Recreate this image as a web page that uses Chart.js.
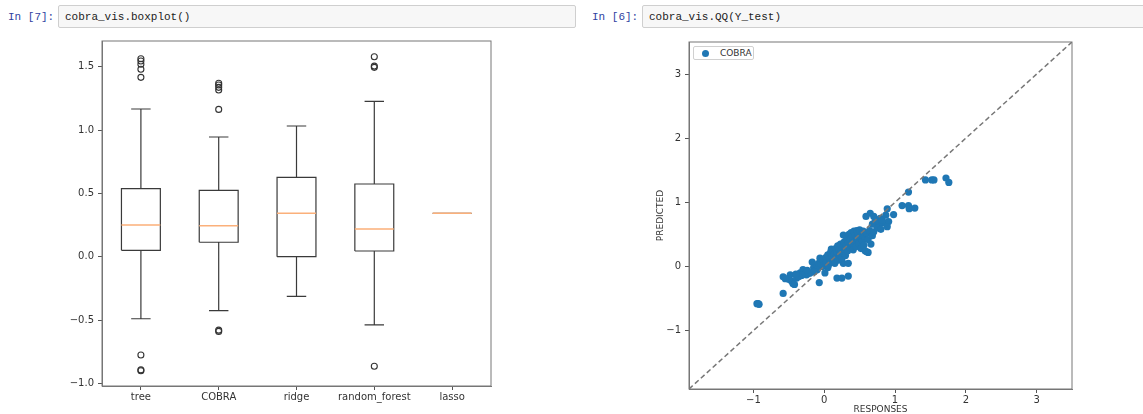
<!DOCTYPE html>
<html lang="en">
<head>
    <meta charset="UTF-8">
    <title>cobra_vis</title>
    <script src="https://cdn.jsdelivr.net/npm/chart.js@4"></script>
    <style>
        body {
            margin: 0;
            width: 1143px;
            height: 414px;
            overflow: hidden;
            background: #fff;
            position: relative;
            font-family: 'DejaVu Sans', sans-serif;
        }

        .prompt {
            position: absolute;
            top: 11px;
            font-family: 'Liberation Mono', monospace;
            font-size: 11px;
            line-height: 12px;
            color: #303F9F;
        }

        .code {
            position: absolute;
            top: 5px;
            height: 23px;
            box-sizing: border-box;
            border: 1px solid #cfcfcf;
            border-radius: 2px;
            background: #f7f7f7;
            padding: 5px 6px;
            font-family: 'Liberation Mono', monospace;
            font-size: 11px;
            line-height: 12px;
            color: #222;
        }

        canvas {
            position: absolute;
            top: 0;
        }

        .legend {
            position: absolute;
            left: 693px;
            top: 46px;
            width: 61px;
            height: 14px;
            box-sizing: border-box;
            border: 1px solid #d0d0d0;
            border-radius: 2px;
            background: #fff;
            font-size: 9px;
            color: #333;
            z-index: 2;
        }

        .legend .dot {
            position: absolute;
            left: 8px;
            top: 3px;
            width: 7px;
            height: 7px;
            border-radius: 50%;
            background: #1f77b4;
        }

        .legend .txt {
            position: absolute;
            left: 26px;
            top: 1px;
            line-height: 11px;
        }
    </style>
</head>
<body>
    <div class="prompt" style="left:8px">In [7]:</div>
    <div class="code" style="left:58px; width:518px">cobra_vis.boxplot()</div>
    <div class="prompt" style="left:592px">In [6]:</div>
    <div class="code" style="left:642px; width:520px">cobra_vis.QQ(Y_test)</div>

    <canvas id="box" width="580" height="414" style="left:0"></canvas>
    <canvas id="qq" width="563" height="414" style="left:580px"></canvas>
    <div class="legend"><span class="dot"></span><span class="txt">COBRA</span></div>

    <script>
        // boxplot values
        const categories = ['tree', 'COBRA', 'ridge', 'random_forest', 'lasso'];
        const q1 = [0.05, 0.114, 0.0, 0.045, 0.342];
        const medians = [0.25, 0.245, 0.342, 0.219, 0.342];
        const q3 = [0.537, 0.524, 0.627, 0.574, 0.342];
        const whiskerLow = [-0.49, -0.426, -0.313, -0.539, 0.342];
        const whiskerHigh = [1.166, 0.945, 1.032, 1.227, 0.342];
        const outliers = [
            [1.563, 1.545, 1.52, 1.48, 1.416, -0.776, -0.894, -0.9],
            [1.37, 1.355, 1.337, 1.316, 1.163, -0.58, -0.59],
            [],
            [1.579, 1.505, 1.495, -0.865],
            []
        ];
        const boxTicks = [-1.0, -0.5, 0.0, 0.5, 1.0, 1.5];

        // QQ values
        const responses = [
            -0.95, -0.93, -0.92, -0.58, -0.58, -0.48, -0.46, -0.44, -0.39, -0.50, -0.42,
            -0.34, -0.30, -0.29, -0.25, -0.22, -0.20, -0.27, -0.32, -0.17, -0.06, -0.03,
            0.04, -0.07, 0.01, 0.18, 0.25, 0.34, 0.27, 0.34, 0.27, 0.62, 0.60,
            -0.15, -0.12, -0.10, -0.08, -0.05, -0.10, -0.14,
            -0.55, -0.36, -0.24, -0.40, 0.05, 0.10,
            -0.02, 0.00, 0.02, 0.03, 0.05, 0.06, 0.08, 0.09, 0.10, 0.11, 0.12, 0.13, 0.14,
            0.15, 0.16, 0.17, 0.18, 0.19, 0.20, 0.21, 0.22, 0.23, 0.24, 0.25, 0.26, 0.27,
            0.28, 0.29, 0.30, 0.31, 0.32, 0.33, 0.34, 0.35, 0.36, 0.37, 0.38, 0.39, 0.40,
            0.41, 0.42, 0.43, 0.44, 0.45, 0.46, 0.47, 0.48, 0.49, 0.50, 0.51, 0.52, 0.53,
            0.54, 0.55, 0.56, 0.57, 0.58, 0.60, 0.62, 0.64, 0.66, 0.68, 0.70,
            0.65, 0.70, 0.59, 0.79, 0.84, 0.91, 0.98, 0.77, 0.89, 0.72, 0.75, 0.82, 0.87,
            0.68, 0.80, 0.89, 1.10, 1.19, 1.20, 1.28, 1.19,
            1.43, 1.52, 1.55, 1.72, 1.76
        ];
        const predicted = [
            -0.58, -0.58, -0.59, -0.42, -0.16, -0.13, -0.23, -0.27, -0.18, -0.20, -0.28,
            -0.10, -0.05, -0.08, -0.13, -0.11, -0.10, -0.12, -0.14, 0.07, 0.13, 0.00,
            0.08, -0.25, -0.10, -0.18, -0.18, -0.15, 0.05, 0.05, 0.49, 0.22, 0.23,
            -0.02, 0.02, 0.00, 0.05, 0.03, -0.05, -0.08,
            -0.19, -0.16, -0.06, -0.12, -0.02, 0.27,
            0.10, 0.03, 0.14, 0.06, 0.18, 0.02, 0.12, 0.22, 0.08, 0.16, 0.25, 0.11, 0.19,
            0.05, 0.28, 0.15, 0.22, 0.32, 0.10, 0.26, 0.18, 0.35, 0.24, 0.13, 0.30, 0.21,
            0.38, 0.27, 0.17, 0.33, 0.44, 0.24, 0.37, 0.50, 0.30, 0.42, 0.53, 0.35, 0.47,
            0.26, 0.55, 0.39, 0.49, 0.31, 0.56, 0.43, 0.51, 0.36, 0.57, 0.45, 0.28, 0.52,
            0.40, 0.55, 0.33, 0.47, 0.24, 0.52, 0.42, 0.56, 0.35, 0.48, 0.54,
            0.83, 0.78, 0.78, 0.75, 0.68, 0.70, 0.81, 0.65, 0.62, 0.70, 0.60, 0.72, 0.80,
            0.66, 0.58, 0.90, 0.95, 0.95, 0.90, 0.91, 1.16,
            1.35, 1.35, 1.35, 1.38, 1.31
        ];
        const qqLimits = [-1.91, 3.5];
        const qqTicks = [-1, 0, 1, 2, 3];

        Chart.defaults.font.family = "'DejaVu Sans', sans-serif";
        Chart.defaults.font.size = 10;
        Chart.defaults.color = '#333';
        Chart.defaults.animation = false;

        var frame = {
            id: 'frame',
            afterDraw(chart) {
                const a = chart.chartArea;
                const ctx = chart.ctx;
                ctx.save();
                ctx.strokeStyle = '#777';
                ctx.lineWidth = 1;
                ctx.strokeRect(a.left, a.top, a.right - a.left, a.bottom - a.top);
                ctx.restore();
            }
        };

        function fixedTicks(values) {
            return function (scale) {
                scale.ticks = values.map(v => ({ value: v }));
            };
        }

        function minus(s) {
            return String(s).replace('-', '\u2212');
        }

        // build box outlines / whiskers from the arrays
        var gap = { x: NaN, y: NaN };
        var boxLines = [];
        var medianLines = [];
        var outlierPts = [];
        categories.forEach(function (c, i) {
            var p = i + 1, w = 0.25, cw = 0.125;
            boxLines.push(
                { x: p - w, y: q1[i] }, { x: p + w, y: q1[i] }, { x: p + w, y: q3[i] },
                { x: p - w, y: q3[i] }, { x: p - w, y: q1[i] }, gap,
                { x: p, y: q1[i] }, { x: p, y: whiskerLow[i] }, gap,
                { x: p - cw, y: whiskerLow[i] }, { x: p + cw, y: whiskerLow[i] }, gap,
                { x: p, y: q3[i] }, { x: p, y: whiskerHigh[i] }, gap,
                { x: p - cw, y: whiskerHigh[i] }, { x: p + cw, y: whiskerHigh[i] }, gap
            );
            medianLines.push({ x: p - w, y: medians[i] }, { x: p + w, y: medians[i] }, gap);
            outliers[i].forEach(v => outlierPts.push({ x: p, y: v }));
        });

        var ctx1 = document.getElementById('box').getContext('2d');
        var chart1 = new Chart(ctx1, {
            type: 'scatter',
            data: {
                datasets: [{
                    data: medianLines,
                    showLine: true,
                    borderColor: '#fbb07a',
                    borderWidth: 1.5,
                    pointRadius: 0,
                    spanGaps: false
                }, {
                    data: boxLines,
                    showLine: true,
                    borderColor: '#3a3a3a',
                    borderWidth: 1.2,
                    pointRadius: 0,
                    spanGaps: false
                }, {
                    data: outlierPts,
                    pointRadius: 3,
                    pointBorderWidth: 1.1,
                    pointBackgroundColor: 'rgba(0,0,0,0)',
                    pointBorderColor: '#333'
                }]
            },
            options: {
                responsive: false,
                layout: { padding: { left: 0, top: 41, right: 89, bottom: 0 } },
                plugins: { legend: { display: false }, tooltip: { enabled: false } },
                scales: {
                    x: {
                        type: 'linear',
                        min: 0.5,
                        max: 5.5,
                        afterBuildTicks: fixedTicks(categories.map((c, i) => i + 1)),
                        afterFit(scale) { scale.height = 28; },
                        grid: { drawOnChartArea: false, tickLength: 4, color: '#555' },
                        border: { color: '#777' },
                        ticks: {
                            padding: 1,
                            maxRotation: 0,
                            autoSkip: false,
                            callback: v => categories[Math.round(v) - 1]
                        }
                    },
                    y: {
                        min: -1.021,
                        max: 1.703,
                        afterBuildTicks: fixedTicks(boxTicks),
                        afterFit(scale) { scale.width = 102; },
                        grid: { drawOnChartArea: false, tickLength: 4, color: '#555' },
                        border: { color: '#777' },
                        ticks: {
                            padding: 4,
                            callback: v => minus(v.toFixed(1))
                        }
                    }
                }
            },
            plugins: [frame]
        });

        var qqPoints = responses.map((r, i) => ({ x: r, y: predicted[i] }));

        var ctx2 = document.getElementById('qq').getContext('2d');
        var chart2 = new Chart(ctx2, {
            type: 'scatter',
            data: {
                datasets: [{
                    label: 'diagonal',
                    data: [{ x: qqLimits[0], y: qqLimits[0] }, { x: qqLimits[1], y: qqLimits[1] }],
                    showLine: true,
                    borderColor: '#777',
                    borderWidth: 1.5,
                    borderDash: [5, 3],
                    pointRadius: 0
                }, {
                    label: 'COBRA',
                    data: qqPoints,
                    pointRadius: 3.6,
                    pointBorderWidth: 0,
                    pointBackgroundColor: '#1f77b4'
                }]
            },
            options: {
                responsive: false,
                layout: { padding: { left: 76, top: 42, right: 71, bottom: 0 } },
                plugins: { legend: { display: false }, tooltip: { enabled: false } },
                scales: {
                    x: {
                        min: qqLimits[0],
                        max: qqLimits[1],
                        afterBuildTicks: fixedTicks(qqTicks),
                        afterFit(scale) { scale.height = 25; },
                        grid: { drawOnChartArea: false, tickLength: 4, color: '#555' },
                        border: { color: '#777' },
                        ticks: { padding: 1, callback: v => minus(v) },
                        title: {
                            display: true,
                            text: 'RESPONSES',
                            font: { size: 9, lineHeight: 1 },
                            padding: { top: 0, bottom: 0 }
                        }
                    },
                    y: {
                        min: qqLimits[0],
                        max: qqLimits[1],
                        afterBuildTicks: fixedTicks(qqTicks),
                        afterFit(scale) { scale.width = 33; },
                        grid: { drawOnChartArea: false, tickLength: 4, color: '#555' },
                        border: { color: '#777' },
                        ticks: { padding: 4, callback: v => minus(v) },
                        title: {
                            display: true,
                            text: 'PREDICTED',
                            font: { size: 9, lineHeight: 1 },
                            padding: { top: 0, bottom: 0 }
                        }
                    }
                }
            },
            plugins: [frame]
        });
    </script>
</body>
</html>
